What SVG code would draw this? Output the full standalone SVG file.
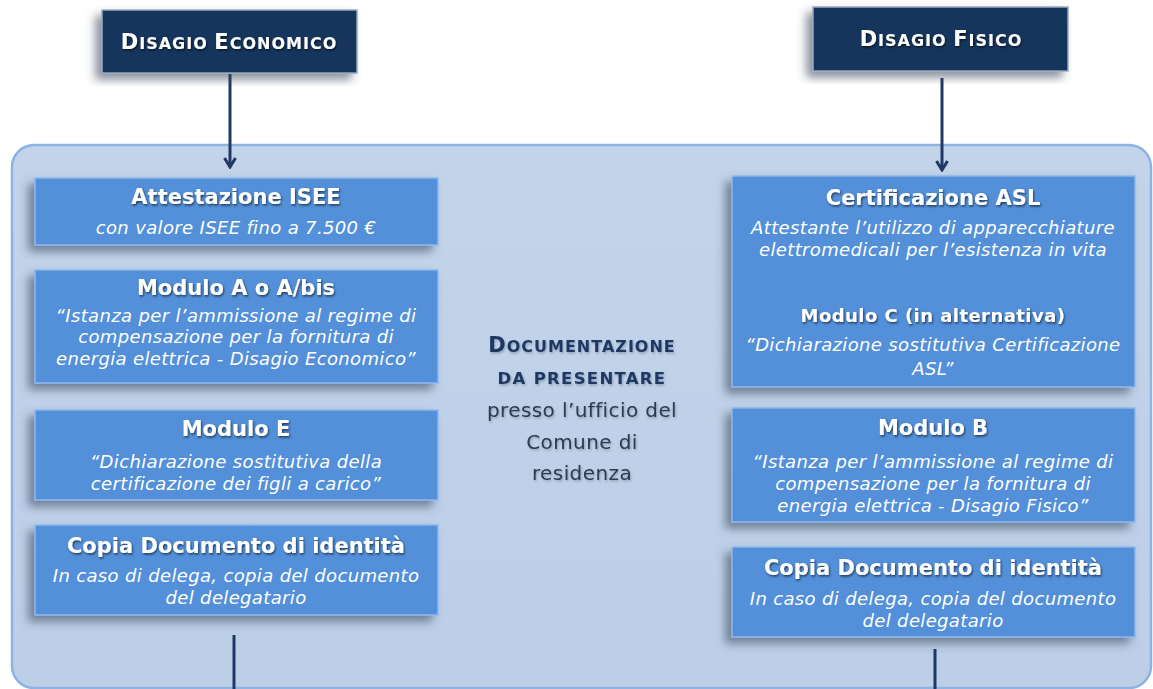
<svg xmlns="http://www.w3.org/2000/svg" width="1153" height="689" viewBox="0 0 1153 689">
<defs>
<style>
.hdr{fill:#17365d;stroke:#9aa9bb;stroke-width:1.5}
.box{fill:#5390d9;stroke:#8fb8ec;stroke-width:1.5}
.t{font-family:"DejaVu Sans",Verdana,sans-serif;fill:#fff;text-anchor:middle}
.ti{font-weight:bold;font-size:21px}
.tm{font-weight:bold;font-size:18px;letter-spacing:0.45px}
.it{font-style:italic;font-size:18px;letter-spacing:0.35px}
.hc{font-family:"DejaVu Sans",Verdana,sans-serif;font-weight:bold;fill:#fff;text-anchor:middle;letter-spacing:1px}
.cn{font-family:"DejaVu Sans",Verdana,sans-serif;text-anchor:middle}
.cr{font-size:20px;letter-spacing:0.4px;fill:#2a3a50}
.conn{stroke:#1f3864;stroke-width:3;fill:none}
</style>
<filter id="sh" x="-10%" y="-10%" width="120%" height="130%">
<feDropShadow dx="-6" dy="6" stdDeviation="5" flood-color="#3a4a60" flood-opacity="0.6"/>
</filter>
<filter id="ts" x="-5%" y="-20%" width="110%" height="150%">
<feDropShadow dx="1" dy="1.5" stdDeviation="0.8" flood-color="#000" flood-opacity="0.6"/>
</filter>
<filter id="ts2" x="-5%" y="-20%" width="110%" height="150%">
<feDropShadow dx="1" dy="1.5" stdDeviation="1" flood-color="#5a6a80" flood-opacity="0.5"/>
</filter>
<linearGradient id="pg" x1="0" y1="0" x2="0" y2="1">
<stop offset="0" stop-color="#c3d4ea"/>
<stop offset="1" stop-color="#bccfe7"/>
</linearGradient>
<marker id="ah" viewBox="0 0 14 14" refX="12" refY="7" markerWidth="14" markerHeight="14" markerUnits="userSpaceOnUse" orient="auto">
<path d="M3,1.5 L12,7 L3,12.5" fill="none" stroke="#1f3864" stroke-width="3" stroke-linejoin="miter"/>
</marker>
</defs>
<rect width="1153" height="689" fill="#fff"/>

<g id="panel">
<rect x="12" y="145" width="1139" height="543" rx="22" ry="22" fill="url(#pg)" stroke="#8db3e2" stroke-width="2.5"/>
</g>

<g id="connectors">
<line class="conn" x1="230" y1="74" x2="230" y2="167" marker-end="url(#ah)"/>
<line class="conn" x1="942" y1="78" x2="942" y2="170" marker-end="url(#ah)"/>
<line class="conn" x1="234" y1="635" x2="234" y2="689"/>
<line class="conn" x1="935" y1="649" x2="935" y2="689"/>
</g>

<g id="disagio-economico">
<rect class="hdr" x="102" y="10" width="255" height="63" filter="url(#sh)"/>
<text class="hc" x="229" y="49" filter="url(#ts)"><tspan font-size="21">D</tspan><tspan font-size="16">ISAGIO </tspan><tspan font-size="21">E</tspan><tspan font-size="16">CONOMICO</tspan></text>
</g>

<g id="disagio-fisico">
<rect class="hdr" x="813" y="7" width="255" height="64" filter="url(#sh)"/>
<text class="hc" x="941" y="46" filter="url(#ts)"><tspan font-size="21">D</tspan><tspan font-size="16">ISAGIO </tspan><tspan font-size="21">F</tspan><tspan font-size="16">ISICO</tspan></text>
</g>

<g id="attestazione-isee">
<rect class="box" x="35" y="178" width="403" height="67" filter="url(#sh)"/>
<text class="t ti" x="236" y="204" filter="url(#ts)">Attestazione ISEE</text>
<text class="t it" x="236" y="234">con valore ISEE fino a 7.500 €</text>
</g>

<g id="modulo-a">
<rect class="box" x="35" y="270" width="403" height="113" filter="url(#sh)"/>
<text class="t ti" x="236" y="295" filter="url(#ts)">Modulo A o A/bis</text>
<text class="t it" x="236" y="322">“Istanza per l’ammissione al regime di</text>
<text class="t it" x="236" y="343">compensazione per la fornitura di</text>
<text class="t it" x="236" y="365">energia elettrica - Disagio Economico”</text>
</g>

<g id="modulo-e">
<rect class="box" x="35" y="410" width="403" height="90" filter="url(#sh)"/>
<text class="t ti" x="236" y="436" filter="url(#ts)">Modulo E</text>
<text class="t it" x="236" y="468">“Dichiarazione sostitutiva della</text>
<text class="t it" x="236" y="490">certificazione dei figli a carico”</text>
</g>

<g id="copia-doc-left">
<rect class="box" x="35" y="525" width="403" height="90" filter="url(#sh)"/>
<text class="t ti" x="236" y="553" filter="url(#ts)">Copia Documento di identità</text>
<text class="t it" x="236" y="582">In caso di delega, copia del documento</text>
<text class="t it" x="236" y="604">del delegatario</text>
</g>

<g id="documentazione">
<text class="cn" x="582" y="352" font-weight="bold" fill="#1f3864" letter-spacing="1" filter="url(#ts2)"><tspan font-size="21">D</tspan><tspan font-size="16">OCUMENTAZIONE</tspan></text>
<text class="cn" x="582" y="384" font-weight="bold" font-size="16.5" letter-spacing="1.3" fill="#1f3864" filter="url(#ts2)">DA PRESENTARE</text>
<text class="cn cr" x="582" y="417" filter="url(#ts2)">presso l’ufficio del</text>
<text class="cn cr" x="582" y="449" filter="url(#ts2)">Comune di</text>
<text class="cn cr" x="582" y="480" filter="url(#ts2)">residenza</text>
</g>

<g id="certificazione-asl">
<rect class="box" x="732" y="176" width="403" height="211" filter="url(#sh)"/>
<text class="t ti" x="933" y="205" filter="url(#ts)">Certificazione ASL</text>
<text class="t it" x="933" y="234">Attestante l’utilizzo di apparecchiature</text>
<text class="t it" x="933" y="256">elettromedicali per l’esistenza in vita</text>
<text class="t tm" x="933" y="322" filter="url(#ts)">Modulo C (in alternativa)</text>
<text class="t it" x="933" y="351">“Dichiarazione sostitutiva Certificazione</text>
<text class="t it" x="933" y="375">ASL”</text>
</g>

<g id="modulo-b">
<rect class="box" x="732" y="408" width="403" height="114" filter="url(#sh)"/>
<text class="t ti" x="933" y="435" filter="url(#ts)">Modulo B</text>
<text class="t it" x="933" y="468">“Istanza per l’ammissione al regime di</text>
<text class="t it" x="933" y="490">compensazione per la fornitura di</text>
<text class="t it" x="933" y="512">energia elettrica - Disagio Fisico”</text>
</g>

<g id="copia-doc-right">
<rect class="box" x="732" y="547" width="403" height="90" filter="url(#sh)"/>
<text class="t ti" x="933" y="575" filter="url(#ts)">Copia Documento di identità</text>
<text class="t it" x="933" y="605">In caso di delega, copia del documento</text>
<text class="t it" x="933" y="627">del delegatario</text>
</g>
</svg>
